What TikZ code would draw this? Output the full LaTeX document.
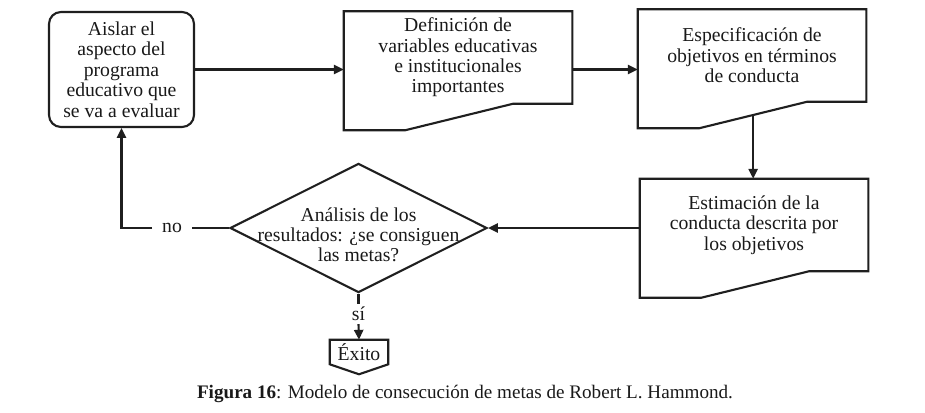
\documentclass[tikz,border=0pt]{standalone}
\usepackage{fontspec}
\setmainfont{Liberation Serif}
\usepackage{tikz}
\usetikzlibrary{arrows.meta, shapes.geometric, calc}

% contorno de documento con el borde inferior escalonado
\newcommand{\contorno}[1]{%
  \draw[linea] (#1.north west) -- (#1.north east) -- (#1.south east)
    -- ($(#1.south west)!0.74!(#1.south east)$) coordinate (#1-a)
    -- ($(#1.south west)!0.27!(#1.south east)+(0cm,-0.66cm)$) coordinate (#1-b)
    -- ($(#1.south west)+(0cm,-0.66cm)$) -- cycle;
  \coordinate (#1-cola) at ($(#1-a)!0.5!(#1-b)$);
}

\begin{document}
\begin{tikzpicture}[x=0.025cm, y=-0.025cm,
  linea/.style={draw=black!88, line width=1.5pt},
  flecha/.style={linea, -{Triangle[length=7pt,width=6.5pt]}},
  texto/.style={font=\fontsize{14}{14.5}\selectfont, text=black!90, align=center},
  caja/.style={texto, linea, rounded corners=0.3cm, minimum width=3.625cm,
    minimum height=2.875cm, inner sep=0pt},
  documento/.style={texto, minimum width=5.7cm, minimum height=2.3cm, inner sep=0pt},
  decision/.style={diamond, linea, minimum width=6.425cm, minimum height=3.225cm,
    inner sep=0pt}]
  \useasboundingbox (0,0) rectangle (925,413);
  % cajas de arriba
  \node[caja] (ais) at (121.5,69.5) {Aislar el\\aspecto del\\programa\\educativo que\\se va a evaluar};
  \node[documento] (def) at (458,57.5) {Definición de\\variables educativas\\e institucionales\\importantes};
  \node[documento] (spec) at (752,55.5) {Especificación de\\objetivos en términos\\de conducta};
  \contorno{def}
  \contorno{spec}
  % estimacion
  \node[documento] (est) at (754,225) {Estimación de la\\conducta descrita por\\los objetivos};
  \contorno{est}
  % rombo de decision
  \node[decision, label={[texto, yshift=-0.17cm]center:{Análisis de los\\resultados: ¿se consiguen\\las metas?}}] (res) at (358.5,228) {};
  \node[texto, inner xsep=7pt] (no) at (172,228) {no};
  \node[texto, inner sep=2pt] (si) at (358.5,314) {sí};
  % exito
  \node[texto, minimum width=1.45cm, minimum height=0.6cm, inner sep=0pt] (exi) at (359,352) {Éxito};
  \draw[linea] (exi.north west) -- (exi.north east) -- (exi.south east)
    -- ($(exi.south)+(0cm,-0.25cm)$) -- (exi.south west) -- cycle;
  % flechas
  \draw[flecha] (ais.east) -- (ais.east -| def.west);
  \draw[flecha] (def.east |- ais.east) -- (spec.west |- ais.east);
  \draw[flecha] (spec-cola) -- (spec-cola |- est.north);
  \draw[flecha] (est.west |- res.east) -- (res.east);
  \draw[linea] (res.west) -- (no.east);
  \draw[flecha] (no.west) -| (ais.south);
  \draw[linea] (res.south) -- (si.north);
  \draw[flecha] (si.south) -- (exi.north);
  % pie de figura
  \node[font=\fontsize{13.6}{16}\selectfont, text=black!90] (pie) at (465,394)
    {\textbf{Figura 16}: Modelo de consecución de metas de Robert L. Hammond.};
\end{tikzpicture}
\end{document}
